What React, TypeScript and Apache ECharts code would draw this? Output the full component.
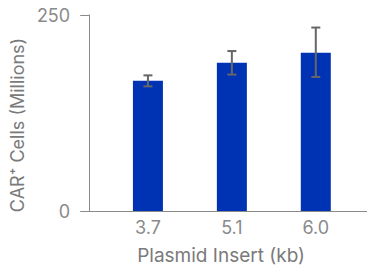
import React, { useEffect, useRef } from "react";
import * as echarts from "echarts";

const categories = ["3.7", "5.1", "6.0"];
const values = [166, 189, 202];
const errLow = [159, 174, 171];
const errHigh = [173, 204, 234];
const yTicks = [0, 250];

export default function App() {
  const ref = useRef<HTMLDivElement>(null);
  useEffect(() => {
    const chart = echarts.init(ref.current!, null, { renderer: "svg" });
    const font = "Inter, 'Noto Sans', sans-serif";
    const gray = "#8a8a8a";
    chart.setOption({
      animation: false,
      grid: { left: 79, right: 0, top: 15, bottom: 55 },
      xAxis: {
        type: "value",
        min: -0.7,
        max: 2.61,
        splitLine: { show: false },
        axisTick: { show: false },
        axisLine: { show: true, onZero: false, lineStyle: { color: gray, width: 1 } },
        axisLabel: {
          customValues: [0, 1, 2],
          formatter: (v: number) => categories[Math.round(v)] ?? "",
          color: gray,
          fontSize: 18,
          fontFamily: font,
          margin: 7,
        },
        name: "Plasmid Insert (kb)",
        nameLocation: "middle",
        nameGap: 35,
        nameTextStyle: { color: "#7a7a7a", fontSize: 19, fontFamily: font, padding: [0, 14, 0, 0] },
      },
      yAxis: {
        type: "value",
        min: yTicks[0],
        max: yTicks[1],
        interval: 250,
        splitLine: { show: false },
        axisLine: { show: true, onZero: false, lineStyle: { color: gray, width: 1 } },
        axisTick: { show: true, length: 9, lineStyle: { color: gray } },
        axisLabel: { color: gray, fontSize: 18, fontFamily: font, margin: 19 },
        name: "CAR\u207A Cells (Millions)",
        nameLocation: "middle",
        nameGap: 46,
        nameRotate: 90,
        nameTextStyle: { color: "#7a7a7a", fontSize: 18, fontFamily: font, padding: [0, 0, 0, -24] },
      },
      series: [
        {
          type: "bar",
          data: values.map((v, i) => [i, v]),
          barWidth: 30,
          itemStyle: { color: "#0033b3" },
        },
        {
          type: "custom",
          data: values.map((_, i) => [i, errLow[i], errHigh[i]]),
          renderItem: (params: any, api: any) => {
            const x = api.value(0);
            const lo = api.coord([x, api.value(1)]);
            const hi = api.coord([x, api.value(2)]);
            const hw = 4.5;
            const style = { stroke: "#666666", lineWidth: 2 };
            return {
              type: "group",
              children: [
                { type: "line", shape: { x1: lo[0], y1: lo[1], x2: hi[0], y2: hi[1] }, style },
                { type: "line", shape: { x1: lo[0] - hw, y1: lo[1], x2: lo[0] + hw, y2: lo[1] }, style },
                { type: "line", shape: { x1: hi[0] - hw, y1: hi[1], x2: hi[0] + hw, y2: hi[1] }, style },
              ],
            };
          },
          z: 5,
        },
      ],
    });
    return () => chart.dispose();
  }, []);
  return <div ref={ref} style={{ width: 367, height: 270, position: "absolute", left: 0, top: 0 }} />;
}
